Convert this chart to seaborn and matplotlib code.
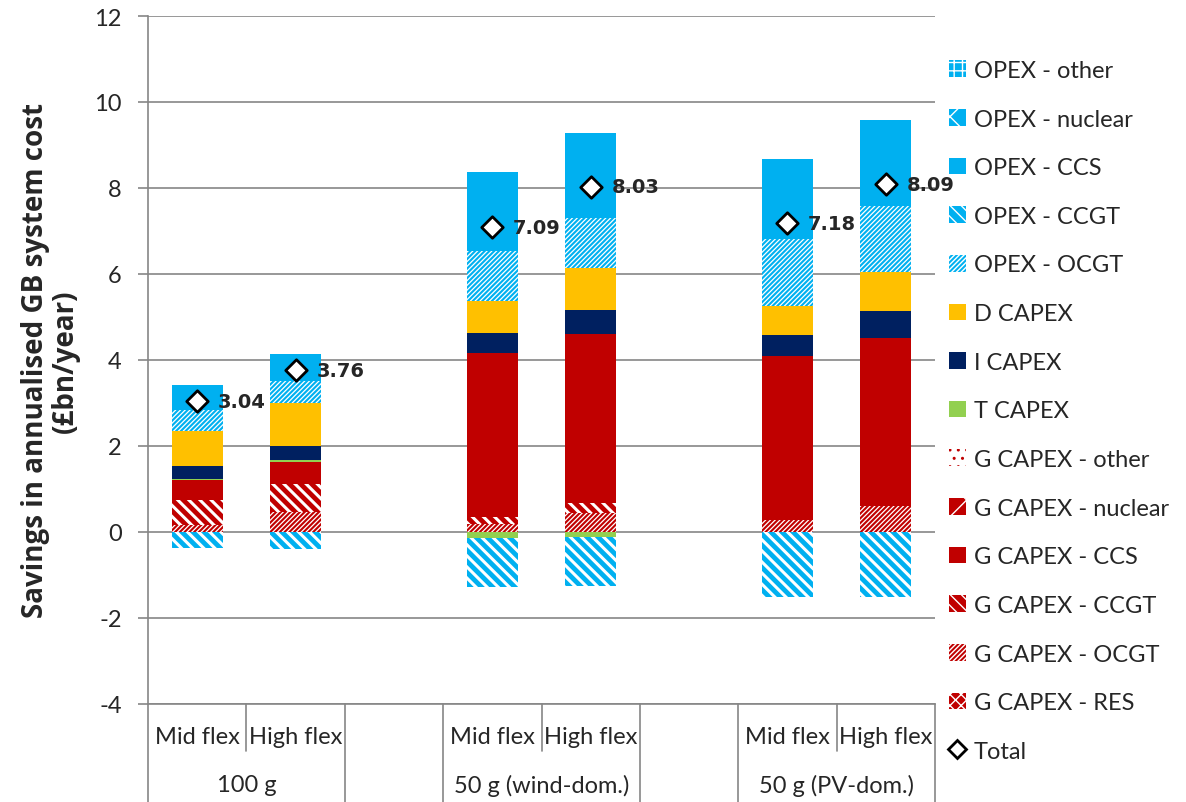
import numpy as np
import pandas as pd
import matplotlib
matplotlib.use("Agg")
import matplotlib.pyplot as plt
from matplotlib.patches import Patch
from matplotlib.lines import Line2D
import seaborn as sns

# ---------------------------------------------------------------
# data (bar order: 100g mid/high, wind mid/high, PV mid/high)
groups = ["100 g", "50 g (wind-dom.)", "50 g (PV-dom.)"]
flex = ["Mid flex", "High flex"]
bar_keys = ["100 g|Mid flex", "100 g|High flex",
            "wind|Mid flex", "wind|High flex",
            "pv|Mid flex", "pv|High flex"]
slots = ["100 g|Mid flex", "100 g|High flex", "gap1",
         "wind|Mid flex", "wind|High flex", "gap2",
         "pv|Mid flex", "pv|High flex"]

g_res = [0, 0, 0, 0, 0, 0]
g_ocgt = [0.17, 0.47, 0.18, 0.45, 0.27, 0.60]
g_ccgt = [0.58, 0.65, 0.16, 0.22, 0, 0]
g_ccs = [0.47, 0.50, 3.82, 3.93, 3.82, 3.91]
g_nuclear = [0, 0, 0, 0, 0, 0]
g_other = [0, 0, 0, 0, 0, 0]
t_capex = [0.02, 0.06, -0.13, -0.11, 0, 0]
i_capex = [0.30, 0.32, 0.46, 0.56, 0.50, 0.64]
d_capex = [0.82, 0.99, 0.76, 0.98, 0.66, 0.89]
opex_ocgt = [0.47, 0.53, 1.16, 1.16, 1.56, 1.53]
opex_ccgt = [-0.37, -0.40, -1.16, -1.14, -1.50, -1.50]
opex_ccs = [0.58, 0.63, 1.84, 1.98, 1.87, 2.02]
opex_nuclear = [0, 0, 0, 0, 0, 0]
opex_other = [0, 0, 0, 0, 0, 0]
totals = [3.04, 3.76, 7.09, 8.03, 7.18, 8.09]

# ---------------------------------------------------------------
blue = "#00B0F0"
red = "#C00000"

# name, values, face, hatch colour, hatch, hatch width  (bottom -> top)
series = [
    ("G CAPEX - RES", g_res, red, "white", "xxx", 1.0),
    ("G CAPEX - OCGT", g_ocgt, red, "white", "///////", 0.9),
    ("G CAPEX - CCGT", g_ccgt, red, "white", "\\\\\\", 2.2),
    ("G CAPEX - CCS", g_ccs, red, red, None, 1.0),
    ("G CAPEX - nuclear", g_nuclear, red, "white", "x", 1.5),
    ("G CAPEX - other", g_other, "white", red, "..", 1.0),
    ("T CAPEX", t_capex, "#92D050", "#92D050", None, 1.0),
    ("I CAPEX", i_capex, "#002060", "#002060", None, 1.0),
    ("D CAPEX", d_capex, "#FFC000", "#FFC000", None, 1.0),
    ("OPEX - OCGT", opex_ocgt, blue, "white", "///////", 0.9),
    ("OPEX - CCGT", opex_ccgt, blue, "white", "\\\\\\", 2.2),
    ("OPEX - CCS", opex_ccs, blue, blue, None, 1.0),
    ("OPEX - nuclear", opex_nuclear, blue, "white", "x", 1.5),
    ("OPEX - other", opex_other, blue, "white", "++", 1.0),
]

sns.set_style("white")
plt.rcParams["font.family"] = ["Lato", "DejaVu Sans"]
plt.rcParams["axes.unicode_minus"] = False

fig = plt.figure(figsize=(11.86, 8.03), dpi=100)
ax = fig.add_axes([148 / 1186, 1 - 705 / 803, (935 - 148) / 1186, (705 - 17) / 803])

pos_base = np.zeros(len(bar_keys))
neg_base = np.zeros(len(bar_keys))
for name, vals, face, hcol, hatch, hlw in series:
    vals = np.array(vals, dtype=float)
    bottoms = np.where(vals >= 0, pos_base, neg_base)
    df = pd.DataFrame({"bar": bar_keys, "value": vals})
    with plt.rc_context({"hatch.linewidth": hlw}):
        sns.barplot(data=df, x="bar", y="value", order=slots, bottom=bottoms,
                    width=0.52, color=face, saturation=1, edgecolor=hcol,
                    hatch=hatch, linewidth=0, errorbar=None, ax=ax, zorder=3)
    pos_base = pos_base + np.where(vals > 0, vals, 0)
    neg_base = neg_base + np.where(vals < 0, vals, 0)

# totals
bar_pos = [slots.index(k) for k in bar_keys]
ax.scatter(bar_pos, totals, marker="D", s=120, facecolor="white",
           edgecolor="black", linewidth=2, zorder=6)
for p, t in zip(bar_pos, totals):
    ax.text(p + 0.21, t, "%.2f" % t, ha="left", va="center",
            fontsize=14, fontweight="bold", family="DejaVu Sans", zorder=7)

# axes styling
grey = "#868686"
ax.set_ylim(-4, 12)
ax.set_xlim(-0.5, 7.5)
ax.set_yticks(np.arange(-4, 13, 2))
ax.yaxis.grid(True, color=grey, linewidth=1.2, zorder=0)
ax.xaxis.grid(False)
ax.set_xticks([])
ax.set_xlabel("")
for s in ["top", "right"]:
    ax.spines[s].set_visible(False)
ax.spines["left"].set_color(grey)
ax.spines["left"].set_linewidth(1.2)
ax.spines["bottom"].set_color(grey)
ax.spines["bottom"].set_linewidth(1.2)
ax.tick_params(axis="y", direction="out", length=7, width=1.2, color=grey,
               labelsize=17, pad=12, left=True)
ax.set_ylabel("Savings in annualised GB system cost\n(£bn/year)",
              fontsize=20, fontweight="bold", family="Open Sans",
              labelpad=10, linespacing=1.05)

# multi-level category axis
tr = ax.get_xaxis_transform()
for x in [0.5, 3.5, 6.5]:
    ax.plot([x, x], [0, -0.068], color=grey, lw=1.2, transform=tr, clip_on=False)
for x in [-0.5, 1.5, 2.5, 4.5, 5.5, 7.5]:
    ax.plot([x, x], [0, -0.142], color=grey, lw=1.2, transform=tr, clip_on=False)
for p, k in zip(bar_pos, bar_keys):
    ax.text(p, -0.047, k.split("|")[1], ha="center", va="center",
            fontsize=17, transform=tr)
for i, g in enumerate(groups):
    ax.text(3 * i + 0.5, -0.117, g, ha="center", va="center",
            fontsize=17, transform=tr)

# legend (top to bottom as in original)
handles = []
for name, vals, face, hcol, hatch, hlw in series[::-1]:
    with plt.rc_context({"hatch.linewidth": min(hlw, 1.5)}):
        handles.append(Patch(facecolor=face, edgecolor=hcol, hatch=hatch,
                             linewidth=0, label=name))
handles.append(Line2D([], [], marker="D", linestyle="none", markersize=9,
                      markerfacecolor="white", markeredgecolor="black",
                      markeredgewidth=2, label="Total"))
fig.legend(handles=handles, loc="upper left",
           bbox_to_anchor=(949 / 1186, 1 - 61 / 803), frameon=False,
           fontsize=17, handlelength=0.7, handleheight=0.7,
           handletextpad=0.35, labelspacing=1.17, borderpad=0,
           borderaxespad=0)

fig.savefig("out.png", dpi=100)
